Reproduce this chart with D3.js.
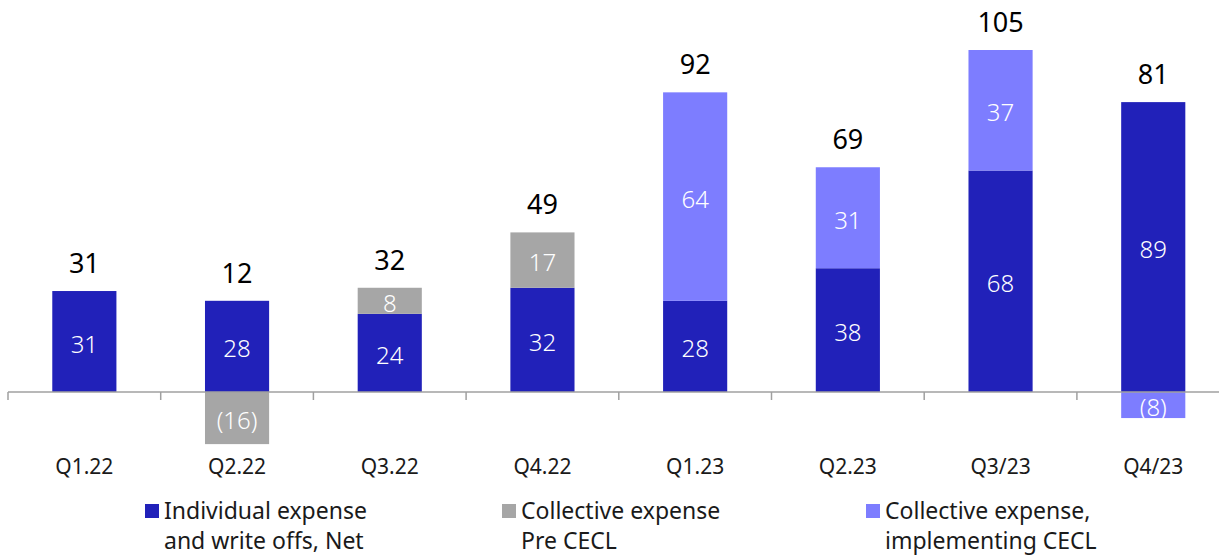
<!DOCTYPE html>
<html>
<head>
<meta charset="utf-8">
<script src="https://cdn.jsdelivr.net/npm/d3@7"></script>
<style>
  html, body { margin: 0; padding: 0; background: #fff; }
  svg { display: block; }
  text { font-family: "Noto Sans", "Open Sans", sans-serif; }
</style>
</head>
<body>
<svg id="chart" width="1219" height="555"></svg>
<script>
// Quarterly credit loss expense, split by component
const categories = ["Q1.22", "Q2.22", "Q3.22", "Q4.22", "Q1.23", "Q2.23", "Q3/23", "Q4/23"];
const individual = [31, 28, 24, 32, 28, 38, 68, 89];
const preCecl    = [0, -16, 8, 17, 0, 0, 0, 0];
const cecl       = [0, 0, 0, 0, 64, 31, 37, -8];
const totals     = [31, 12, 32, 49, 92, 69, 105, 81];

const seriesNames  = ["Individual expense\nand write offs, Net", "Collective expense\nPre CECL", "Collective expense,\nimplementing CECL"];
const seriesValues = [individual, preCecl, cecl];
const seriesColors = ["#2121b9", "#a6a6a6", "#7d7dff"];

const svg = d3.select("#chart");
const baseY = 392;

const x = d3.scaleBand()
  .domain(categories)
  .range([8, 1229.6])
  .paddingInner(0.58)
  .paddingOuter(0.29);

const y = d3.scaleLinear()
  .domain([0, 105])
  .range([baseY, 50]);

// stack positives upward and negatives downward from the zero line
const segments = [];
categories.forEach((c, i) => {
  let pos = 0, neg = 0;
  seriesValues.forEach((vals, s) => {
    const v = vals[i];
    if (v === 0) return;
    let y0, y1;
    if (v > 0) { y0 = pos; y1 = pos + v; pos = y1; }
    else { y0 = neg + v; y1 = neg; neg = y0; }
    segments.push({ cat: c, i, s, v, y0, y1 });
  });
});

const g = svg.append("g");

g.selectAll("rect.seg")
  .data(segments)
  .join("rect")
  .attr("class", "seg")
  .attr("x", d => x(d.cat))
  .attr("width", x.bandwidth())
  .attr("y", d => y(d.y1))
  .attr("height", d => y(d.y0) - y(d.y1))
  .attr("fill", d => seriesColors[d.s]);

// segment values inside the bars
g.selectAll("text.seg")
  .data(segments)
  .join("text")
  .attr("class", "seg")
  .attr("x", d => x(d.cat) + x.bandwidth() / 2)
  .attr("y", d => (y(d.y0) + y(d.y1)) / 2 + 11)
  .attr("text-anchor", "middle")
  .attr("fill", "#fff")
  .attr("font-size", 24)
  .attr("font-weight", 300)
  .text(d => d.v < 0 ? `(${-d.v})` : d.v);

// axis line with boundary ticks
const step = x.step();
const axisG = svg.append("g").attr("stroke", "#a0a0a0").attr("stroke-width", 1.5);
axisG.append("line")
  .attr("x1", x.range()[0]).attr("x2", 1219)
  .attr("y1", baseY).attr("y2", baseY);
axisG.selectAll("line.tick")
  .data(d3.range(categories.length + 1))
  .join("line")
  .attr("class", "tick")
  .attr("x1", i => x.range()[0] + i * step)
  .attr("x2", i => x.range()[0] + i * step)
  .attr("y1", baseY).attr("y2", baseY + 8);

// totals above each bar
const posTop = categories.map((c, i) =>
  seriesValues.reduce((acc, vals) => acc + Math.max(0, vals[i]), 0));
svg.selectAll("text.total")
  .data(categories)
  .join("text")
  .attr("class", "total")
  .attr("x", c => x(c) + x.bandwidth() / 2)
  .attr("y", (c, i) => y(posTop[i]) - 18)
  .attr("text-anchor", "middle")
  .attr("fill", "#000")
  .attr("font-size", 27)
  .attr("font-weight", 400)
  .text((c, i) => totals[i]);

// category labels
svg.selectAll("text.cat")
  .data(categories)
  .join("text")
  .attr("class", "cat")
  .attr("x", c => x(c) + x.bandwidth() / 2)
  .attr("y", 474)
  .attr("text-anchor", "middle")
  .attr("fill", "#1a1a1a")
  .attr("font-size", 21)
  .text(c => c);

// legend
const legendX = [145, 502, 866];
const legend = svg.selectAll("g.legend")
  .data(seriesNames)
  .join("g")
  .attr("class", "legend")
  .attr("transform", (d, i) => `translate(${legendX[i]},0)`);
legend.append("rect")
  .attr("x", 0).attr("y", 504)
  .attr("width", 14).attr("height", 14)
  .attr("fill", (d, i) => seriesColors[i]);
legend.append("text")
  .attr("fill", "#1a1a1a")
  .attr("font-size", 23)
  .selectAll("tspan")
  .data(d => d.split("\n"))
  .join("tspan")
  .attr("x", 19)
  .attr("y", (d, j) => 519 + j * 30)
  .text(d => d);
</script>
</body>
</html>
